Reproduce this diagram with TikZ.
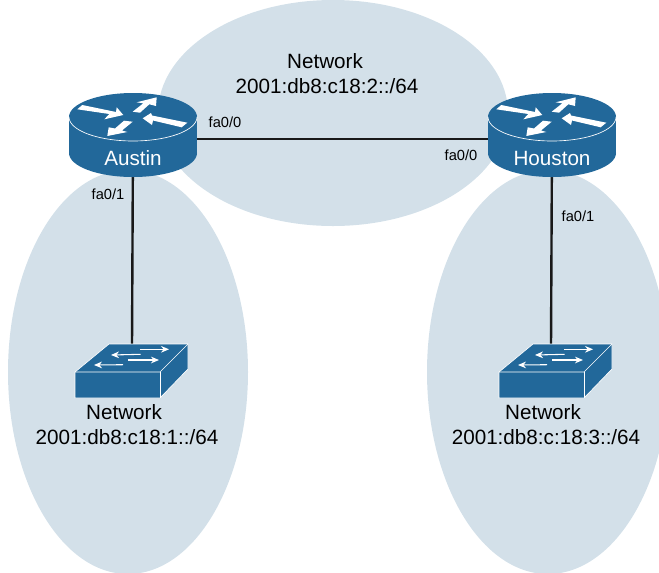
\documentclass[tikz,border=0pt]{standalone}
\usepackage{fontspec}
\setmainfont{Liberation Sans}
\usetikzlibrary{arrows.meta}
\definecolor{ciscoblue}{HTML}{22689A}
\definecolor{netblue}{HTML}{D3E0E9}
\tikzset{
  net/.style={fill=netblue,draw=none},
  link/.style={black!90,line width=1.8pt},
  netlabel/.style={font=\fontsize{15.5}{18}\selectfont,inner sep=0pt},
  portlabel/.style={font=\fontsize{11}{13}\selectfont,inner sep=0pt},
  devlabel/.style={font=\fontsize{15.5}{18}\selectfont,text=white,inner sep=0pt},
  pics/router/.style={code={
    \fill [ciscoblue] (0,36) ellipse (64 and 24);
    \fill [ciscoblue] (-64,0) rectangle (64,36);
    \fill [ciscoblue] (0,0) ellipse (64 and 24);
    \draw [white,line width=0.5pt,domain=0:180,samples=40] plot ({64*cos(\x)},{24*sin(\x)});
    \fill [white] (-55.7,-7.7) -- (-50.7,-12) -- (-17,-5) -- (-16.3,-9.7) -- (-9.7,-2) -- (-28.7,2.3) -- (-23.7,-3) -- cycle;
    \fill [white] (-0.3,-5.3) -- (7,-4.3) -- (16.3,-12.7) -- (23,-11) -- (23.7,-19.7) -- (3.7,-14.7) -- (10.3,-13.7) -- cycle;
    \fill [white] (9.7,1.3) -- (18,-4) -- (19,-1.5) -- (54.3,5.7) -- (48.7,10.3) -- (20,3.5) -- (19,8) -- cycle;
    \fill [white] (-25.7,19) -- (-24.3,10.3) -- (-18,11.5) -- (-9,3.7) -- (-0.3,4.7) -- (-11,13.5) -- (-5.7,15) -- cycle;
    \node (#1) [devlabel] at (0,41) {#1};
  }},
  pics/lanswitch/.style={code={
    \fill [ciscoblue,draw=white,line width=0.5pt] (0,0) -- (-34,28) -- (-34,54) -- (51,54) -- (79,25) -- (79,0) -- cycle;
    \draw [white,line width=0.5pt] (-34,28) -- (51,28) -- (79,0);
    \draw [white,line width=0.5pt] (51,28) -- (51,54);
    \draw [white,line width=0.8pt,-{Stealth[length=6pt,width=5pt]}] (31,5.3) -- (60,5.3);
    \draw [white,line width=0.8pt,-{Stealth[length=6pt,width=5pt]}] (31.7,10.3) -- (2,11);
    \draw [white,line width=0.8pt,-{Stealth[length=6pt,width=5pt]}] (19,16) -- (50,16);
    \draw [white,line width=0.8pt,-{Stealth[length=6pt,width=5pt]}] (14,20.7) -- (-15,21);
  }}
}
\begin{document}
\begin{tikzpicture}[x=0.75pt,y=-0.75pt]
\useasboundingbox (0,0) rectangle (659,572);
\clip (0,0) rectangle (659,572);
\fill [net] (333,113) ellipse (175 and 113);
\fill [net] (128,372) ellipse (120 and 202);
\fill [net] (548,372) ellipse (121 and 202);
\coordinate (austinlink) at (133,139);
\coordinate (houstonlink) at (552,139);
\coordinate (austinsw) at (132,346);
\coordinate (houstonsw) at (551,346);
\draw [link] (austinlink) -- (houstonlink);
\draw [link] (austinlink) -- (austinsw);
\draw [link] (houstonlink) -- (houstonsw);
\pic at (133,117) {router=Austin};
\pic at (552,117) {router=Houston};
\pic at (109,344) {lanswitch};
\pic at (533,344) {lanswitch};
\node (topnet) [netlabel] at (325,61) {Network};
\node (topaddr) [netlabel] at (327,86) {2001:db8:c18:2::/64};
\node (leftnet) [netlabel] at (124,412) {Network};
\node (leftaddr) [netlabel] at (127,437) {2001:db8:c18:1::/64};
\node (rightnet) [netlabel] at (543,412) {Network};
\node (rightaddr) [netlabel] at (546,437) {2001:db8:c:18:3::/64};
\node (austinfa0) [portlabel] at (225,122) {fa0/0};
\node (austinfa1) [portlabel] at (108,194) {fa0/1};
\node (houstonfa0) [portlabel] at (461,155) {fa0/0};
\node (houstonfa1) [portlabel] at (578,216) {fa0/1};
\end{tikzpicture}
\end{document}
